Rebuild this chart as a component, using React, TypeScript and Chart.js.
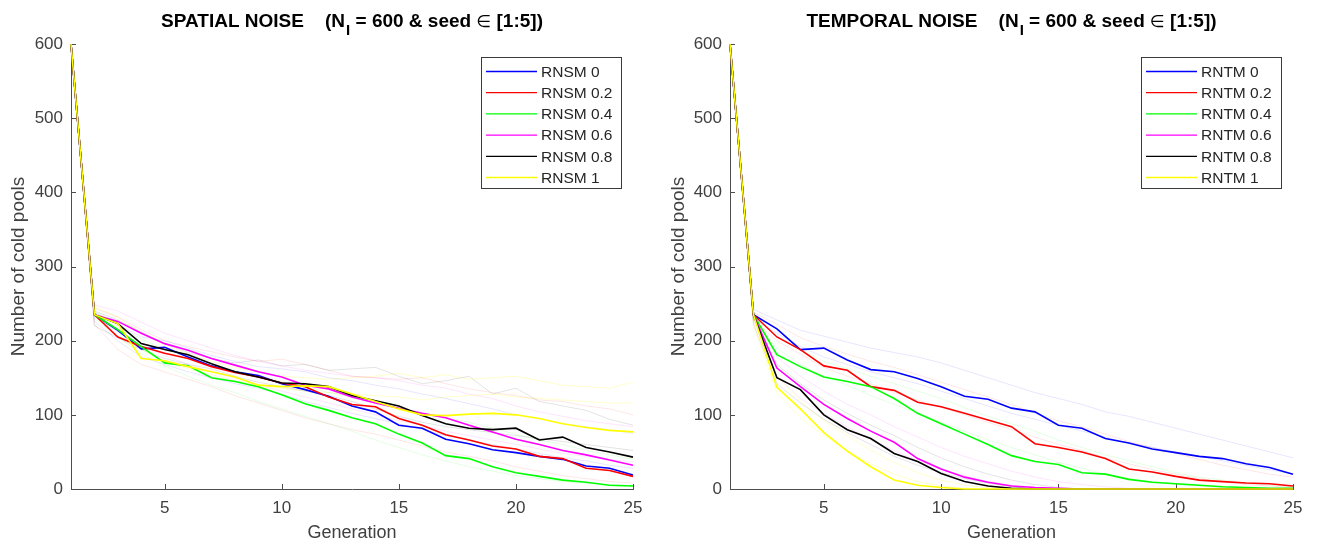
import React, { useEffect, useRef } from "react";
import { Chart, registerables } from "chart.js";

Chart.register(...registerables);

// ---------------- data ----------------
const generations = [1, 2, 3, 4, 5, 6, 7, 8, 9, 10, 11, 12, 13, 14, 15, 16, 17, 18, 19, 20, 21, 22, 23, 24, 25];
const xTickValues = [5, 10, 15, 20, 25];
const yTickValues = [0, 100, 200, 300, 400, 500, 600];

const spatialTitleMain = "SPATIAL NOISE    (N";
const temporalTitleMain = "TEMPORAL NOISE    (N";
const titleSubscript = "I";
const titleMid = " = 600 & seed ";
const titleSymbol = "\u2208";
const titleTail = " [1:5])";
const xAxisTitle = "Generation";
const yAxisTitle = "Number of cold pools";

const spatialLabels = ["RNSM 0", "RNSM 0.2", "RNSM 0.4", "RNSM 0.6", "RNSM 0.8", "RNSM 1"];
const temporalLabels = ["RNTM 0", "RNTM 0.2", "RNTM 0.4", "RNTM 0.6", "RNTM 0.8", "RNTM 1"];

const seriesColors = ["#0000ff", "#ff0000", "#00ff00", "#ff00ff", "#000000", "#ffff00"];
const faintColors = [
  "rgba(0,0,255,0.10)",
  "rgba(255,0,0,0.10)",
  "rgba(0,255,0,0.11)",
  "rgba(255,0,255,0.11)",
  "rgba(0,0,0,0.11)",
  "rgba(255,255,0,0.20)",
];

// Spatial noise: mean curves
const spatialRnsm0 = [600, 235, 214, 189, 191, 178, 166, 158, 153, 142, 134, 125, 112, 104, 86, 82, 67, 61, 53, 49, 44, 40, 31, 28, 19];
const spatialRnsm02 = [600, 235, 205, 192, 183, 176, 165, 157, 151, 143, 138, 124, 114, 111, 95, 86, 73, 66, 58, 54, 44, 41, 28, 25, 17];
const spatialRnsm04 = [600, 235, 215, 192, 170, 166, 150, 145, 138, 127, 115, 106, 96, 88, 74, 62, 45, 41, 30, 22, 17, 12, 9, 5, 4];
const spatialRnsm06 = [600, 235, 226, 210, 196, 187, 176, 167, 158, 151, 140, 135, 124, 116, 109, 102, 96, 86, 77, 67, 60, 52, 46, 39, 32];
const spatialRnsm08 = [600, 235, 223, 196, 188, 181, 169, 158, 151, 143, 142, 138, 126, 119, 112, 99, 88, 82, 80, 82, 66, 70, 56, 50, 43];
const spatialRnsm1 = [600, 235, 223, 176, 173, 165, 158, 151, 140, 138, 139, 138, 128, 118, 108, 100, 99, 101, 102, 100, 95, 88, 83, 79, 77];

// Spatial noise: individual seeds (faint)
const spatialSeedsRnsm0A = [600, 238, 222, 205, 200, 190, 180, 172, 165, 162, 158, 150, 146, 140, 135, 128, 122, 115, 108, 100, 95, 88, 84, 80, 75];
const spatialSeedsRnsm0B = [600, 226, 200, 178, 168, 158, 150, 142, 136, 128, 118, 110, 102, 95, 88, 80, 72, 66, 60, 54, 48, 42, 38, 32, 28];
const spatialSeedsRnsm02A = [600, 244, 232, 215, 200, 192, 185, 178, 172, 175, 168, 160, 152, 150, 148, 150, 142, 135, 130, 126, 120, 118, 112, 108, 100];
const spatialSeedsRnsm02B = [600, 222, 188, 168, 158, 148, 138, 126, 116, 106, 96, 88, 80, 74, 66, 58, 50, 44, 38, 30, 24, 18, 14, 10, 8];
const spatialSeedsRnsm04A = [600, 240, 220, 202, 188, 178, 168, 160, 152, 145, 138, 130, 124, 118, 110, 102, 96, 90, 82, 74, 66, 60, 52, 46, 40];
const spatialSeedsRnsm04B = [600, 230, 205, 182, 166, 152, 140, 130, 118, 108, 98, 88, 78, 66, 56, 46, 38, 30, 24, 18, 14, 10, 8, 6, 5];
const spatialSeedsRnsm06A = [600, 248, 240, 225, 210, 200, 190, 180, 172, 166, 160, 156, 152, 150, 146, 140, 136, 128, 122, 112, 104, 98, 92, 88, 84];
const spatialSeedsRnsm06B = [600, 232, 212, 194, 180, 168, 158, 150, 140, 132, 124, 116, 108, 100, 92, 86, 78, 72, 66, 60, 54, 48, 44, 40, 36];
const spatialSeedsRnsm08A = [600, 240, 228, 212, 196, 184, 176, 170, 174, 166, 168, 160, 162, 164, 152, 142, 146, 152, 128, 136, 118, 112, 106, 94, 86];
const spatialSeedsRnsm08B = [600, 220, 204, 188, 176, 168, 162, 152, 144, 138, 132, 126, 118, 108, 98, 90, 84, 80, 76, 72, 68, 64, 60, 56, 52];
const spatialSeedsRnsm1A = [600, 246, 232, 210, 194, 182, 172, 164, 158, 152, 150, 148, 150, 152, 156, 150, 154, 148, 150, 152, 146, 140, 138, 136, 144];
const spatialSeedsRnsm1B = [600, 236, 216, 188, 172, 162, 154, 146, 140, 136, 132, 130, 128, 126, 124, 120, 124, 126, 128, 124, 122, 120, 118, 116, 116];

// Temporal noise: mean curves
const temporalRntm0 = [600, 235, 216, 188, 190, 174, 161, 158, 149, 138, 125, 121, 109, 104, 86, 82, 68, 62, 54, 49, 44, 41, 34, 29, 20];
const temporalRntm02 = [600, 235, 205, 188, 166, 160, 138, 133, 117, 111, 102, 93, 84, 61, 56, 50, 41, 27, 23, 17, 12, 10, 8, 7, 4];
const temporalRntm04 = [600, 235, 181, 165, 151, 145, 138, 122, 102, 88, 74, 60, 45, 37, 33, 22, 20, 13, 9, 7, 5, 3, 2, 1, 1];
const temporalRntm06 = [600, 235, 163, 138, 114, 95, 78, 63, 41, 27, 16, 9, 4, 2, 1, 0, 0, 0, 0, 0, 0, 0, 0, 0, 0];
const temporalRntm08 = [600, 235, 150, 134, 100, 80, 68, 48, 37, 21, 10, 4, 1, 0, 0, 0, 0, 0, 0, 0, 0, 0, 0, 0, 0];
const temporalRntm1 = [600, 235, 137, 108, 76, 51, 30, 12, 5, 2, 0, 0, 0, 0, 0, 0, 0, 0, 0, 0, 0, 0, 0, 0, 0];

// Temporal noise: individual seeds (faint)
const temporalSeedsRntm0A = [600, 242, 228, 214, 206, 198, 190, 184, 178, 170, 160, 150, 140, 130, 122, 114, 104, 98, 90, 82, 74, 66, 58, 50, 42];
const temporalSeedsRntm0B = [600, 230, 210, 192, 178, 168, 158, 150, 142, 132, 122, 112, 102, 94, 86, 78, 70, 62, 56, 50, 44, 38, 32, 26, 20];
const temporalSeedsRntm02A = [600, 238, 222, 204, 192, 182, 172, 164, 154, 144, 134, 124, 114, 102, 92, 84, 74, 64, 56, 48, 40, 32, 26, 20, 16];
const temporalSeedsRntm02B = [600, 228, 200, 182, 164, 152, 142, 130, 120, 110, 100, 90, 80, 70, 60, 52, 42, 34, 26, 20, 14, 10, 6, 4, 2];
const temporalSeedsRntm04A = [600, 236, 206, 188, 172, 162, 152, 142, 132, 122, 110, 98, 88, 78, 66, 56, 46, 38, 30, 22, 16, 12, 8, 5, 3];
const temporalSeedsRntm04B = [600, 228, 190, 168, 152, 140, 126, 114, 102, 90, 78, 66, 56, 46, 36, 28, 20, 14, 10, 6, 4, 2, 1, 0, 0];
const temporalSeedsRntm06A = [600, 236, 178, 152, 132, 114, 100, 84, 70, 56, 44, 34, 24, 16, 10, 6, 3, 1, 0, 0, 0, 0, 0, 0, 0];
const temporalSeedsRntm06B = [600, 226, 152, 122, 102, 84, 66, 52, 38, 26, 18, 10, 5, 2, 0, 0, 0, 0, 0, 0, 0, 0, 0, 0, 0];
const temporalSeedsRntm08A = [600, 232, 168, 142, 120, 102, 86, 72, 56, 42, 30, 20, 12, 6, 2, 0, 0, 0, 0, 0, 0, 0, 0, 0, 0];
const temporalSeedsRntm08B = [600, 222, 142, 116, 94, 76, 60, 44, 32, 22, 14, 8, 3, 1, 0, 0, 0, 0, 0, 0, 0, 0, 0, 0, 0];
const temporalSeedsRntm1A = [600, 236, 152, 118, 92, 72, 52, 36, 22, 12, 5, 2, 0, 0, 0, 0, 0, 0, 0, 0, 0, 0, 0, 0, 0];
const temporalSeedsRntm1B = [600, 220, 130, 96, 72, 52, 34, 20, 10, 4, 1, 0, 0, 0, 0, 0, 0, 0, 0, 0, 0, 0, 0, 0, 0];

// ---------------- styling ----------------
const FONT = '"Liberation Sans", Arial, Helvetica, sans-serif';
const AXIS_COLOR = "#4d4d4d";
const TEXT_COLOR = "#404040";
const PAGE_W = 1317;
const PAGE_H = 545;

type Panel = {
  titleMain: string;
  labels: string[];
  bold: number[][];
  faint: number[][][];
  yAxisWidth: number;
  canvasLeft: number;
  canvasWidth: number;
  padRight: number;
};

const panels: Panel[] = [
  {
    titleMain: spatialTitleMain,
    labels: spatialLabels,
    bold: [spatialRnsm0, spatialRnsm02, spatialRnsm04, spatialRnsm06, spatialRnsm08, spatialRnsm1],
    faint: [
      [spatialSeedsRnsm0A, spatialSeedsRnsm0B],
      [spatialSeedsRnsm02A, spatialSeedsRnsm02B],
      [spatialSeedsRnsm04A, spatialSeedsRnsm04B],
      [spatialSeedsRnsm06A, spatialSeedsRnsm06B],
      [spatialSeedsRnsm08A, spatialSeedsRnsm08B],
      [spatialSeedsRnsm1A, spatialSeedsRnsm1B],
    ],
    yAxisWidth: 71,
    canvasLeft: 0,
    canvasWidth: 660,
    padRight: 27,
  },
  {
    titleMain: temporalTitleMain,
    labels: temporalLabels,
    bold: [temporalRntm0, temporalRntm02, temporalRntm04, temporalRntm06, temporalRntm08, temporalRntm1],
    faint: [
      [temporalSeedsRntm0A, temporalSeedsRntm0B],
      [temporalSeedsRntm02A, temporalSeedsRntm02B],
      [temporalSeedsRntm04A, temporalSeedsRntm04B],
      [temporalSeedsRntm06A, temporalSeedsRntm06B],
      [temporalSeedsRntm08A, temporalSeedsRntm08B],
      [temporalSeedsRntm1A, temporalSeedsRntm1B],
    ],
    yAxisWidth: 70,
    canvasLeft: 660,
    canvasWidth: 657,
    padRight: 24,
  },
];

const toPoints = (vals: number[]) => vals.map((v, i) => ({ x: generations[i], y: v }));

function buildChart(canvas: HTMLCanvasElement, panel: Panel) {
  const datasets: any[] = [];
  panel.faint.forEach((group, si) => {
    group.forEach((arr) => {
      datasets.push({
        label: "",
        data: toPoints(arr),
        borderColor: faintColors[si],
        borderWidth: 1,
        pointRadius: 0,
        order: 20,
        clip: 4,
      });
    });
  });
  panel.bold.forEach((arr, si) => {
    datasets.push({
      label: panel.labels[si],
      data: toPoints(arr),
      borderColor: seriesColors[si],
      borderWidth: 1.6,
      pointRadius: 0,
      order: 5 - si,
      clip: 4,
    });
  });

  const innerTicks = {
    id: "innerTicks",
    beforeDatasetsDraw(chart: any) {
      const { ctx, chartArea, scales } = chart;
      ctx.save();
      ctx.strokeStyle = AXIS_COLOR;
      ctx.lineWidth = 1;
      ctx.beginPath();
      xTickValues.forEach((v) => {
        const px = Math.round(scales.x.getPixelForValue(v)) + 0.5;
        ctx.moveTo(px, chartArea.bottom);
        ctx.lineTo(px, chartArea.bottom - 5);
      });
      yTickValues.forEach((v) => {
        const py = Math.round(scales.y.getPixelForValue(v)) + 0.5;
        ctx.moveTo(chartArea.left, py);
        ctx.lineTo(chartArea.left + 5, py);
      });
      ctx.stroke();
      ctx.restore();
    },
  };

  const titleAndLegend = {
    id: "titleAndLegend",
    afterDraw(chart: any) {
      const { ctx, chartArea } = chart;
      ctx.save();
      // title
      const bigFont = `bold 19px ${FONT}`;
      const subFont = `bold 15px ${FONT}`;
      const symFont = `17px "DejaVu Sans", ${FONT}`;
      ctx.font = bigFont;
      const w1 = ctx.measureText(panel.titleMain).width;
      const wMid = ctx.measureText(titleMid).width;
      const wTail = ctx.measureText(titleTail).width;
      ctx.font = subFont;
      const w2 = ctx.measureText(titleSubscript).width + 1;
      ctx.font = symFont;
      const wSym = ctx.measureText(titleSymbol).width;
      const total = w1 + w2 + wMid + wSym + wTail;
      const cx = (chartArea.left + chartArea.right) / 2;
      let x = cx - total / 2;
      const base = 27;
      ctx.fillStyle = "#000000";
      ctx.textBaseline = "alphabetic";
      ctx.textAlign = "left";
      ctx.font = bigFont;
      ctx.fillText(panel.titleMain, x, base);
      x += w1 + 1;
      ctx.font = subFont;
      ctx.fillText(titleSubscript, x, base + 8);
      x += w2 - 1;
      ctx.font = bigFont;
      ctx.fillText(titleMid, x, base);
      x += wMid;
      ctx.font = symFont;
      ctx.fillText(titleSymbol, x, base);
      x += wSym;
      ctx.font = bigFont;
      ctx.fillText(titleTail, x, base);

      // legend box
      const boxLeft = chartArea.right - 152;
      const boxTop = 57;
      const boxW = 140;
      const boxH = 131;
      ctx.fillStyle = "#ffffff";
      ctx.fillRect(boxLeft, boxTop, boxW, boxH);
      ctx.strokeStyle = "#3a3a3a";
      ctx.lineWidth = 1;
      ctx.strokeRect(Math.round(boxLeft) + 0.5, boxTop + 0.5, boxW, boxH);
      ctx.font = `15.5px ${FONT}`;
      ctx.textBaseline = "middle";
      panel.labels.forEach((lab, i) => {
        const yy = boxTop + 14.5 + i * 21.2;
        ctx.strokeStyle = seriesColors[i];
        ctx.lineWidth = 1.3;
        ctx.beginPath();
        ctx.moveTo(boxLeft + 5, yy);
        ctx.lineTo(boxLeft + 56, yy);
        ctx.stroke();
        ctx.fillStyle = "#262626";
        ctx.fillText(lab, boxLeft + 60, yy + 1);
      });
      ctx.restore();
    },
  };

  return new Chart(canvas, {
    type: "line",
    data: { datasets },
    plugins: [innerTicks, titleAndLegend],
    options: {
      responsive: false,
      animation: false,
      events: [],
      layout: { padding: { top: 44, right: panel.padRight, bottom: 0, left: 0 } },
      plugins: {
        legend: { display: false },
        title: { display: false },
        tooltip: { enabled: false },
      },
      elements: { line: { tension: 0 }, point: { radius: 0 } },
      scales: {
        x: {
          type: "linear",
          min: 1,
          max: 25,
          grid: { display: false, drawTicks: false },
          border: { display: true, color: AXIS_COLOR, width: 1 },
          afterBuildTicks: (scale: any) => {
            scale.ticks = xTickValues.map((v) => ({ value: v }));
          },
          afterFit: (scale: any) => {
            scale.height = PAGE_H - 489;
          },
          ticks: {
            color: TEXT_COLOR,
            font: { family: FONT, size: 17 },
            padding: 9,
            maxRotation: 0,
            autoSkip: false,
          },
          title: {
            display: true,
            text: xAxisTitle,
            color: TEXT_COLOR,
            font: { family: FONT, size: 18 },
            padding: { top: 0, bottom: 1 },
          },
        },
        y: {
          type: "linear",
          min: 0,
          max: 600,
          grid: { display: false, drawTicks: false },
          border: { display: true, color: AXIS_COLOR, width: 1 },
          afterBuildTicks: (scale: any) => {
            scale.ticks = yTickValues.map((v) => ({ value: v }));
          },
          afterFit: (scale: any) => {
            scale.width = panel.yAxisWidth;
          },
          ticks: {
            color: TEXT_COLOR,
            font: { family: FONT, size: 17 },
            padding: 8,
          },
          title: {
            display: true,
            text: yAxisTitle,
            color: TEXT_COLOR,
            font: { family: FONT, size: 19 },
            padding: { top: 7, bottom: 0 },
          },
        },
      },
    } as any,
  });
}

function PanelChart({ panel }: { panel: Panel }) {
  const ref = useRef<HTMLCanvasElement | null>(null);
  useEffect(() => {
    if (!ref.current) return;
    const chart = buildChart(ref.current, panel);
    return () => chart.destroy();
  }, [panel]);
  return (
    <canvas
      ref={ref}
      width={panel.canvasWidth}
      height={PAGE_H}
      style={{
        position: "absolute",
        left: panel.canvasLeft,
        top: 0,
        width: panel.canvasWidth,
        height: PAGE_H,
      }}
    />
  );
}

export default function App() {
  return (
    <div
      style={{
        position: "absolute",
        left: 0,
        top: 0,
        width: PAGE_W,
        height: PAGE_H,
        background: "#ffffff",
        overflow: "hidden",
      }}
    >
      {panels.map((p, i) => (
        <PanelChart key={i} panel={p} />
      ))}
    </div>
  );
}
